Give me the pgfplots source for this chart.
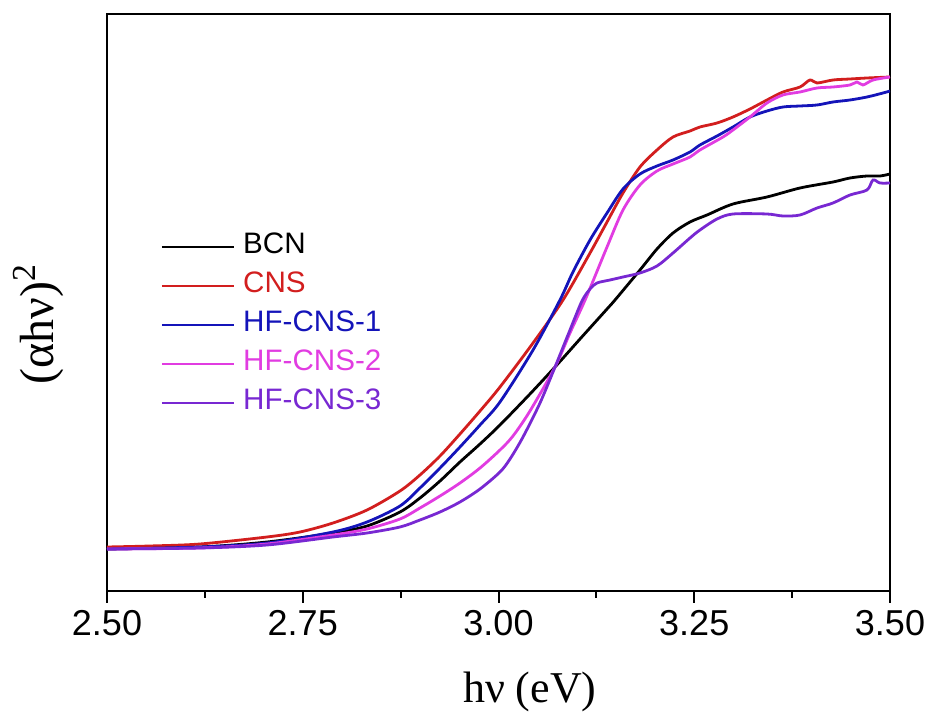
\documentclass[border=0pt]{standalone}
\usepackage{pgfplots}
\pgfplotsset{compat=1.18}
\usepackage{fontspec}
\setmainfont{Liberation Sans}
\newfontfamily\timesf{Liberation Serif}
\definecolor{bcnblack}{RGB}{0,0,0}
\definecolor{cnsred}{RGB}{210,30,30}
\definecolor{hfblue}{RGB}{20,20,185}
\definecolor{hfmag}{RGB}{225,60,225}
\definecolor{hfpurp}{RGB}{120,40,210}
\begin{document}
\begin{tikzpicture}
\begin{axis}[
  scale only axis, width=391.5pt, height=288.5pt,
  xmin=2.5, xmax=3.5, ymin=0, ymax=577,
  axis line style={line width=1pt},
  xtick={2.5,2.75,3,3.25,3.5},
  xticklabels={2.50,2.75,3.00,3.25,3.50},
  minor xtick={2.625,2.875,3.125,3.375},
  ytick=\empty,
  xtick pos=left,
  tick align=outside,
  major tick length=6pt, minor tick length=3.5pt,
  every tick/.style={black, line width=1pt},
  /pgf/number format/assume math mode=true,
  xticklabel style={font=\fontsize{18}{20}\selectfont},
  xlabel={\timesf\fontsize{22}{24}\selectfont hν (eV)},
  xlabel style={at={(axis description cs:0.540,-0.194)}, anchor=base},
  ylabel={\timesf\fontsize{24}{26}\selectfont (αhν)\textsuperscript{2}},
  ylabel style={at={(axis description cs:-0.0677,0.463)}, anchor=base},
  legend style={draw=none, fill=none, at={(axis description cs:0.0677,0.6213)}, anchor=north west,
    font=\fontsize{14.8}{17}\selectfont, row sep=5.5pt, column sep=4pt, inner sep=0pt,
    nodes={inner sep=0pt, text height=10.5pt, text depth=3.5pt}},
  legend image code/.code={\draw[#1,sharp plot] (0pt,0pt) -- (36pt,0pt);},
  legend cell align=left,
  every axis plot/.append style={line width=1.4pt, smooth, tension=0.5},
]
\addplot[bcnblack] table {
2.5000 42
2.6188 44
2.7043 49
2.7886 58
2.8321 65
2.8742 79
2.8997 93
2.9253 110
2.9508 129
2.9764 147
3.0019 166
3.0402 197
3.0722 224
3.1041 252
3.1386 282
3.1488 291
3.1807 321
3.2024 342
3.2229 358
3.2446 369
3.2663 376
3.2995 387
3.3429 394
3.3851 403
3.4272 409
3.4489 413
3.4706 415
3.4872 415
3.5000 417
};
\addlegendentry{\textcolor{bcnblack}{BCN}}
\addplot[cnsred] table {
2.5000 44
2.5549 45
2.6188 47
2.7043 54
2.7465 59
2.7886 68
2.8321 81
2.8742 100
2.8997 116
2.9253 135
2.9508 157
2.9764 180
3.0019 204
3.0441 248
3.0824 291
3.1169 338
3.1386 369
3.1590 398
3.1807 424
3.2024 441
3.2229 454
3.2446 460
3.2573 464
3.2791 468
3.2995 474
3.3212 482
3.3429 491
3.3633 499
3.3851 504
3.3978 511
3.4068 508
3.4272 511
3.4489 512
3.4706 513
3.5000 514
};
\addlegendentry{\textcolor{cnsred}{CNS}}
\addplot[hfblue] table {
2.5000 42
2.6188 44
2.7043 48
2.7886 59
2.8321 69
2.8742 85
2.8997 103
2.9253 123
2.9508 144
2.9764 166
3.0019 189
3.0441 241
3.0785 291
3.0951 319
3.1169 351
3.1386 378
3.1590 402
3.1807 417
3.2024 425
3.2229 431
3.2446 439
3.2573 446
3.2791 455
3.2995 464
3.3212 474
3.3429 480
3.3633 484
3.3851 485
3.4068 486
3.4272 489
3.4489 491
3.4706 494
3.4911 498
3.5000 500
};
\addlegendentry{\textcolor{hfblue}{HF-CNS-1}}
\addplot[hfmag] table {
2.5000 42
2.6188 43
2.7043 47
2.7886 56
2.8321 62
2.8742 72
2.8997 83
2.9253 95
2.9508 108
2.9764 123
3.0019 141
3.0185 155
3.0402 180
3.0722 224
3.0913 258
3.1117 293
3.1386 344
3.1590 381
3.1807 406
3.2024 420
3.2229 427
3.2446 434
3.2573 441
3.2867 454
3.2995 461
3.3212 474
3.3429 488
3.3633 496
3.3851 499
3.4068 503
3.4272 504
3.4489 506
3.4579 509
3.4655 506
3.4783 511
3.5000 514
};
\addlegendentry{\textcolor{hfmag}{HF-CNS-2}}
\addplot[hfpurp] table {
2.5000 42
2.6188 43
2.7043 46
2.7886 54
2.8321 58
2.8742 64
2.8997 71
2.9253 79
2.9508 89
2.9764 102
3.0019 119
3.0147 132
3.0313 154
3.0530 188
3.0722 224
3.0913 261
3.1066 290
3.1169 302
3.1258 308
3.1424 311
3.1590 314
3.1807 318
3.2024 325
3.2229 338
3.2446 353
3.2573 361
3.2791 372
3.2995 377
3.3429 377
3.3633 375
3.3851 376
3.4068 383
3.4272 388
3.4489 396
3.4706 401
3.4783 411
3.4872 408
3.5000 408
};
\addlegendentry{\textcolor{hfpurp}{HF-CNS-3}}
\coordinate (SW) at (rel axis cs:0,0);
\coordinate (NE) at (rel axis cs:1,1);
\end{axis}
\pgfresetboundingbox
\path[use as bounding box] ([xshift=-53.5pt,yshift=-65.5pt]SW) rectangle ([xshift=21pt,yshift=7pt]NE);
\end{tikzpicture}
\end{document}
